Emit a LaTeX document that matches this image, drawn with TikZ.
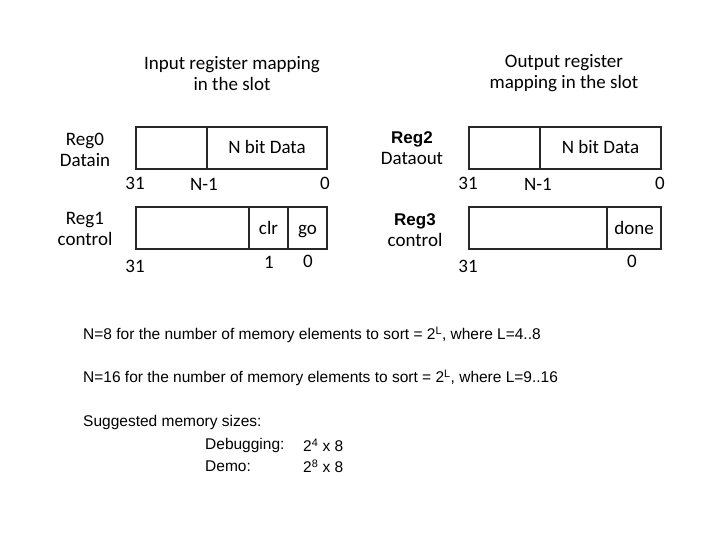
\documentclass[tikz,border=0pt]{standalone}
\usepackage{fontspec}
\setmainfont{Carlito}
\newfontfamily\arialfont{Liberation Sans}
\usetikzlibrary{positioning}
\definecolor{SlotLine}{RGB}{40,40,40}
\definecolor{SlotGray}{RGB}{120,120,120}

\begin{document}
\begin{tikzpicture}[x=1pt,y=-1pt,
  field/.style={draw=SlotLine,line width=1.3pt,minimum height=42pt,inner sep=0pt,outer sep=0pt,text height=12pt,text depth=0pt,font=\fontsize{19}{19}\selectfont},
  bit/.style={inner sep=0pt,text height=12pt,text depth=0pt,font=\fontsize{19}{19}\selectfont},
  reglabel/.style={align=center,inner sep=0pt,font=\fontsize{19}{21}\selectfont},
  note/.style={anchor=west,inner sep=0pt,font=\arialfont\fontsize{15.5}{15.5}\selectfont}]
  \useasboundingbox (0,0) rectangle (720,540);
  % titles
  \node[reglabel] (tin) at (232,74) {Input register mapping\\in the slot};
  \node[reglabel] (tout) at (564,73) {Output register\\mapping in the slot};
  % Reg0 Datain
  \node[field,minimum width=71pt,anchor=north west] (r0a) at (136,127) {};
  \node[field,minimum width=120pt,right=0pt of r0a] (r0b) {N bit Data};
  \node[reglabel] (l0) at (85,150) {Reg0\\Datain};
  \node[bit] (b0a) at (135,184) {31};
  \node[bit] (b0b) at (204,185) {N-1};
  \node[bit] (b0c) at (325,184) {0};
  % Reg1 control
  \node[field,minimum width=113pt,anchor=north west] (r1a) at (136,207) {};
  \node[field,minimum width=39pt,right=0pt of r1a] (r1b) {clr};
  \node[field,minimum width=39pt,right=0pt of r1b] (r1c) {go};
  \node[reglabel] (l1) at (85,229) {Reg1\\control};
  \node[bit] (b1a) at (135,266) {31};
  \node[bit] (b1b) at (269,262) {1};
  \node[bit] (b1c) at (308,261) {0};
  % Reg2 Dataout
  \node[field,minimum width=71pt,anchor=north west] (r2a) at (469,127) {};
  \node[field,minimum width=121pt,right=0pt of r2a] (r2b) {N bit Data};
  \node[reglabel] (l2) at (412,148) {{\arialfont\bfseries\fontsize{17}{17}\selectfont Reg2}\\Dataout};
  \node[bit] (b2a) at (468,184) {31};
  \node[bit] (b2b) at (538,185) {N-1};
  \node[bit] (b2c) at (660,184) {0};
  % Reg3 control
  \node[field,minimum width=138pt,anchor=north west] (r3a) at (469,207) {};
  \node[field,minimum width=54pt,right=0pt of r3a] (r3b) {done};
  \node[reglabel] (l3) at (415,230) {{\arialfont\bfseries\fontsize{17}{17}\selectfont Reg3}\\control};
  \node[bit] (b3a) at (468,266) {31};
  \node[bit] (b3b) at (632,261) {0};
  % notes
  \node[note] (n1) at (83,335) {N=8 for the number of memory elements to sort = 2\textsuperscript{L}, where L=4..8};
  \node[note] (n2) at (83,378) {N=16 for the number of memory elements to sort = 2\textsuperscript{L}, where L=9..16};
  \node[note] (n3) at (83,422) {Suggested memory sizes:};
  \node[note] (n4) at (205,445) {Debugging:};
  \node[note] (n5) at (303,445) {2\textsuperscript{4} x 8};
  \node[note] (n6) at (205,466) {Demo:};
  \node[note] (n7) at (303,466) {2\textsuperscript{8} x 8};
\end{tikzpicture}
\end{document}
